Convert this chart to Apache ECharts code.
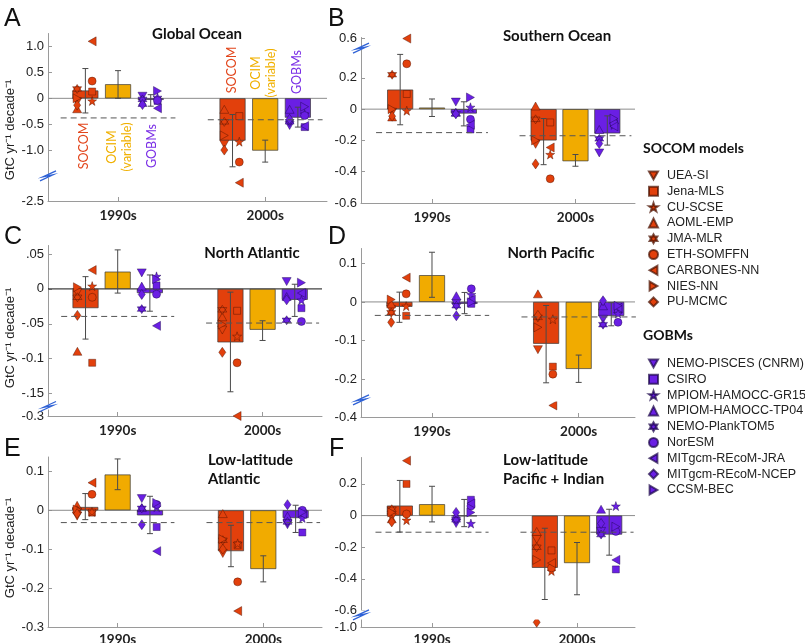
<!DOCTYPE html>
<html>
<head>
<meta charset="utf-8">
<script src="https://cdn.jsdelivr.net/npm/echarts@6/dist/echarts.min.js"></script>
<style>
  html, body { margin: 0; padding: 0; background: #fff; }
  #main { width: 805px; height: 643px; }
</style>
</head>
<body>
<div id="main"></div>
<script>
// decades and panels
var decades = ['1990s', '2000s'];
var panelLetters = ['A', 'B', 'C', 'D', 'E', 'F'];
var panelTitles = ['Global Ocean', 'Southern Ocean', 'North Atlantic', 'North Pacific',
  'Low-latitude\nAtlantic', 'Low-latitude\nPacific + Indian'];

var socomModels = ['UEA-SI', 'Jena-MLS', 'CU-SCSE', 'AOML-EMP', 'JMA-MLR', 'ETH-SOMFFN',
  'CARBONES-NN', 'NIES-NN', 'PU-MCMC'];
var gobmModels = ['NEMO-PISCES (CNRM)', 'CSIRO', 'MPIOM-HAMOCC-GR15', 'MPIOM-HAMOCC-TP04',
  'NEMO-PlankTOM5', 'NorESM', 'MITgcm-REcoM-JRA', 'MITgcm-REcoM-NCEP', 'CCSM-BEC'];

// bar means per panel [1990s, 2000s]
var socomBars = [[0.15, -0.81], [0.125, -0.2], [-0.0276, -0.0767], [-0.0127, -0.1086], [0.0085, -0.105], [0.063, -0.33]];
var ocimBars = [[0.27, -1.0], [0.01, -0.333], [0.0248, -0.0586], [0.0695, -0.174], [0.092, -0.151], [0.072, -0.30]];
var gobmBars = [[-0.03, -0.37], [-0.028, -0.155], [-0.006, -0.0157], [-0.005, -0.0365], [-0.013, -0.02], [-0.004, -0.12]];

// error bars [low, high] per panel, per decade
var socomErr = [[[-0.28, 0.57], [-1.31, -0.31]], [[-0.1, 0.35], [-0.355, -0.06]], [[-0.072, 0.0176], [-0.1476, -0.0047]],
  [[-0.053, 0.0254], [-0.21, -0.0093]], [[-0.024, 0.043], [-0.145, -0.0385]], [[-0.104, 0.222], [-0.53, -0.08]]];
var ocimErr = [[[0.0, 0.53], [-1.22, -0.8]], [[-0.047, 0.065], [-0.365, -0.29]], [[-0.006, 0.056], [-0.074, -0.0457]],
  [[0.012, 0.129], [-0.209, -0.138]], [[0.053, 0.132], [-0.184, -0.117]], [[-0.04, 0.185], [-0.5, -0.17]]];
var gobmErr = [[[-0.15, 0.07], [-0.55, -0.17]], [[-0.107, 0.047], [-0.23, -0.043]], [[-0.032, 0.02], [-0.0395, 0.0067]],
  [[-0.0305, 0.0246], [-0.062, -0.002]], [[-0.06, 0.036], [-0.057, 0.013]], [[-0.07, 0.102], [-0.25, 0.04]]];

// dashed reference level per panel [1990s, 2000s]
var dashedRef = [[-0.375, -0.41], [-0.15, -0.17], [-0.0395, -0.049], [-0.035, -0.039], [-0.0316, -0.0316], [-0.105, -0.105]];

// SOCOM model values (socomModels order): [1990s, 2000s]
var socomA = [[-0.07, 0.13, -0.05, -0.2, 0.18, 0.33, 1.09, 0.0, -0.13], [-0.88, -0.34, -0.83, -0.21, -0.45, -1.22, -2.15, -0.71, -0.99]];
var socomB = [[-0.02, 0.097, -0.01, -0.05, 0.22, 0.29, 0.6, 0.0, -0.045], [-0.225, -0.085, -0.29, 0.02, -0.065, -0.445, -0.245, -0.2, -0.35]];
var socomC = [[-0.005, -0.106, 0.004, -0.0895, -0.012, -0.012, 0.027, 0.0024, -0.038], [-0.059, -0.0314, -0.068, -0.04, -0.03, -0.106, -0.3, -0.051, -0.091]];
var socomD = [[-0.02, -0.036, -0.011, -0.005, -0.028, 0.021, 0.063, 0.006, -0.053], [-0.124, -0.168, -0.045, 0.021, -0.04, -0.1875, -0.37, -0.066, -0.035]];
var socomE = [[-0.015, -0.006, -0.004, 0.013, 0.0, 0.041, 0.071, 0.002, -0.0085], [-0.111, -0.09, -0.085, -0.0085, -0.077, -0.184, -0.259, -0.074, -0.1]];
var socomF = [[-0.01, 0.2, -0.029, -0.02, 0.04, 0.01, 0.347, 0.02, -0.04], [-0.15, -0.22, -0.35, -0.1, -0.2, -0.33, -0.3, -0.28, -0.97]];

// GOBM values (gobmModels order): [1990s, 2000s]
var gobmA = [[0.04, -0.05, 0.02, -0.08, -0.02, -0.04, -0.19, -0.12, 0.14], [-0.52, -0.55, -0.3, -0.21, -0.45, -0.33, -0.53, -0.4, -0.16]];
var gobmB = [[0.045, -0.13, 0.012, -0.02, -0.03, -0.065, -0.1, -0.03, 0.075], [-0.28, -0.09, -0.1, -0.13, -0.19, -0.09, -0.11, -0.22, -0.06]];
var gobmC = [[0.023, 0.005, 0.018, 0.004, -0.029, -0.0076, -0.053, -0.008, 0.014], [0.0105, -0.0276, -0.016, -0.011, -0.045, -0.0467, -0.006, -0.0157, 0.009]];
var gobmD = [[-0.004, -0.005, 0.019, 0.016, -0.01, 0.034, 0.006, -0.036, -0.001], [-0.045, -0.02, -0.03, -0.01, -0.059, -0.053, -0.015, 0.003, -0.01]];
var gobmE = [[0.03, -0.043, 0.0085, 0.007, 0.005, 0.015, -0.105, -0.037, 0.019], [-0.037, -0.057, -0.02, -0.015, -0.03, 0.0, -0.01, 0.0145, -0.005]];
var gobmF = [[-0.05, 0.1, -0.05, 0.0, -0.027, 0.06, 0.077, 0.02, 0.02], [-0.1, -0.34, 0.06, 0.04, -0.12, -0.1, -0.28, -0.05, -0.07]];

var socomPts = [socomA, socomB, socomC, socomD, socomE, socomF];
var gobmPts = [gobmA, gobmB, gobmC, gobmD, gobmE, gobmF];

// y tick labels per panel
var yTicks = [[-2.5, -1, -0.5, 0, 0.5, 1], [-0.6, -0.4, -0.2, 0, 0.2, 0.6], [-0.3, -0.15, -0.1, -0.05, 0, 0.05],
  [-0.4, -0.2, -0.1, 0, 0.1], [-0.3, -0.2, -0.1, 0, 0.1], [-1, -0.6, -0.4, -0.2, 0, 0.2]];
var yTickText = [['-2.5', '-1.0', '-0.5', '0', '0.5', '1.0'], ['-0.6', '-0.4', '-0.2', '0', '0.2', '0.6'],
  ['-0.3', '-.15', '-0.1', '-.05', '0', '.05'], ['-0.4', '-0.2', '-0.1', '0', '0.1'],
  ['-0.3', '-0.2', '-0.1', '0', '0.1'], ['-1.0', '-0.6', '-0.4', '-0.2', '0', '0.2']];

// layout
var grids = [
  { left: 48, top: 33, width: 279, height: 168 },
  { left: 361, top: 37, width: 274, height: 166 },
  { left: 48, top: 245, width: 274, height: 171 },
  { left: 361, top: 248, width: 274, height: 169 },
  { left: 48, top: 457, width: 274, height: 170 },
  { left: 361, top: 457, width: 274, height: 170 }
];
var xRange = [[0.524, 2.42], [0.505, 2.415], [0.519, 2.41], [0.516, 2.384], [0.522, 2.403], [0.51, 2.4]];
var yRange = [[-2.5, 1.25], [-0.6, 0.61], [-0.3, 0.063], [-0.4, 0.14], [-0.3, 0.137], [-1.0, 0.37]];
var yBreaks = [
  { start: -2.05, end: -1.45, gap: '2%' },
  { start: 0.38, end: 0.55, gap: '2%' },
  { start: -0.29, end: -0.165, gap: '3%' },
  { start: -0.36, end: -0.25, gap: '2%' },
  null,
  { start: -0.95, end: -0.6, gap: '5%' }
];
var zeroColor = ['#8c8c8c', '#8c8c8c', '#111', '#8c8c8c', '#8c8c8c', '#8c8c8c'];
var xLabelMargin = [8, 8, 8, 8, 6, 6];

var RED = '#e2400c', GOLD = '#f1ab00', PURPLE = '#6a1fe4';
var sym = {
  triDown: 'path://M0,0L10,0L5,8.66Z',
  triLeft: 'path://M8.66,0L8.66,10L0,5Z',
  triRight: 'path://M0,0L0,10L8.66,5Z',
  star5: 'path://M5,0L6.18,3.38L9.76,3.45L6.9,5.62L7.94,9.05L5,7L2.06,9.05L3.1,5.62L0.24,3.45L3.82,3.38Z',
  star6: 'path://M5,0L9.33,7.5L0.67,7.5Z M5,10L0.67,2.5L9.33,2.5Z'
};
var socomSym = [sym.triDown, 'rect', sym.star5, 'triangle', sym.star6, 'circle', sym.triLeft, sym.triRight, 'diamond'];
var gobmSym = [sym.triDown, 'rect', sym.star5, 'triangle', sym.star6, 'circle', sym.triLeft, 'diamond', sym.triRight];
var socomSize = [[9, 8], [7, 7], [9, 9], [9, 8], [9, 9], [8, 8], [8, 9], [8, 9], [7, 10]];
var gobmSize = [[9, 8], [7, 7], [9, 9], [9, 8], [9, 9], [8, 8], [8, 9], [7, 10], [8, 9]];
var socomCol = [-1, 1, 1, -1, -1, 1, 1, -1, -1];
var gobmCol = [-1, 1, 1, -1, -1, 1, 1, -1, 1];
var barOff = [-0.222, 0, 0.222];

function colOff(c) { return c < 0 ? -0.056 : 0.046; }

function fmtY(i) {
  return function (v) {
    for (var k = 0; k < yTicks[i].length; k++) {
      if (Math.abs(yTicks[i][k] - v) < 1e-9) return yTickText[i][k];
    }
    return '';
  };
}

function renderErr(params, api) {
  var x = api.value(0);
  var lo = api.coord([x, api.value(1)]);
  var hi = api.coord([x, api.value(2)]);
  var c = 3;
  var st = { stroke: '#4a4a4a', lineWidth: 1 };
  return {
    type: 'group',
    children: [
      { type: 'line', shape: { x1: lo[0], y1: lo[1], x2: hi[0], y2: hi[1] }, style: st },
      { type: 'line', shape: { x1: lo[0] - c, y1: lo[1], x2: lo[0] + c, y2: lo[1] }, style: st },
      { type: 'line', shape: { x1: hi[0] - c, y1: hi[1], x2: hi[0] + c, y2: hi[1] }, style: st }
    ]
  };
}

var gridOpt = [], xAxes = [], yAxes = [], series = [];

for (var i = 0; i < 6; i++) {
  gridOpt.push({
    left: grids[i].left, top: grids[i].top, width: grids[i].width, height: grids[i].height,
    containLabel: false, outerBoundsMode: 'none'
  });
  xAxes.push({
    type: 'value', gridIndex: i, min: xRange[i][0], max: xRange[i][1],
    axisLine: { show: true, onZero: false, lineStyle: { color: '#9a9a9a', width: 1 } },
    axisTick: { show: true, inside: true, length: 4, customValues: [1, 2], lineStyle: { color: '#9a9a9a' } },
    axisLabel: {
      customValues: [1, 2], margin: xLabelMargin[i], color: '#222', fontSize: 13.5, fontWeight: 'bold', fontFamily: 'Lato',
      formatter: function (v) { return decades[Math.round(v) - 1] || ''; }
    },
    splitLine: { show: false }
  });
  var ya = {
    type: 'value', gridIndex: i, min: yRange[i][0], max: yRange[i][1],
    axisLine: { show: true, onZero: false, lineStyle: { color: '#9a9a9a', width: 1 } },
    axisTick: { show: true, inside: true, length: 4, customValues: yTicks[i], lineStyle: { color: '#9a9a9a' } },
    axisLabel: { customValues: yTicks[i], formatter: fmtY(i), color: '#222', fontSize: 13, fontFamily: 'Liberation Sans', margin: 4 },
    splitLine: { show: false }
  };
  if (yBreaks[i]) {
    ya.breaks = [yBreaks[i]];
    ya.breakArea = {
      show: true, expandOnClick: false, zigzagAmplitude: 0,
      itemStyle: { color: '#fff', borderColor: '#fff', borderWidth: 0, opacity: 1 }
    };
    ya.breakLabelLayout = { moveOverlap: false };
  }
  yAxes.push(ya);

  // zero line
  series.push({
    type: 'line', xAxisIndex: i, yAxisIndex: i, symbol: 'none', silent: true, z: 1,
    data: [[xRange[i][0], 0], [xRange[i][1], 0]],
    lineStyle: { color: zeroColor[i], width: 1 }
  });

  // bars
  var barSets = [socomBars, ocimBars, gobmBars];
  var barCols = [RED, GOLD, PURPLE];
  for (var b = 0; b < 3; b++) {
    series.push({
      type: 'bar', xAxisIndex: i, yAxisIndex: i, barWidth: 26, barGap: '-100%', z: 2,
      data: [[1 + barOff[b], barSets[b][i][0]], [2 + barOff[b], barSets[b][i][1]]],
      itemStyle: { color: barCols[b], borderColor: '#3a3a3a', borderWidth: 0.7 }
    });
  }

  // model points
  for (var m = 0; m < 9; m++) {
    var so = barOff[0] + colOff(socomCol[m]);
    series.push({
      name: socomModels[m], type: 'scatter', xAxisIndex: i, yAxisIndex: i, z: 4,
      symbol: socomSym[m], symbolSize: socomSize[m],
      data: [[1 + so, socomPts[i][0][m]], [2 + so, socomPts[i][1][m]]],
      itemStyle: { color: RED, borderColor: 'rgba(70,15,0,0.7)', borderWidth: 0.6, opacity: 1 }
    });
    var go = barOff[2] + colOff(gobmCol[m]);
    series.push({
      name: gobmModels[m], type: 'scatter', xAxisIndex: i, yAxisIndex: i, z: 4,
      symbol: gobmSym[m], symbolSize: gobmSize[m],
      data: [[1 + go, gobmPts[i][0][m]], [2 + go, gobmPts[i][1][m]]],
      itemStyle: { color: PURPLE, borderColor: 'rgba(25,5,70,0.7)', borderWidth: 0.6, opacity: 1 }
    });
  }

  // error bars
  var errSets = [socomErr, ocimErr, gobmErr];
  var errData = [];
  for (var e = 0; e < 3; e++) {
    errData.push([1 + barOff[e], errSets[e][i][0][0], errSets[e][i][0][1]]);
    errData.push([2 + barOff[e], errSets[e][i][1][0], errSets[e][i][1][1]]);
  }
  series.push({
    type: 'custom', xAxisIndex: i, yAxisIndex: i, z: 5, silent: true,
    renderItem: renderErr, data: errData, encode: { x: 0, y: [1, 2] }
  });

  // dashed reference lines
  for (var d = 0; d < 2; d++) {
    series.push({
      type: 'line', xAxisIndex: i, yAxisIndex: i, symbol: 'none', silent: true, z: 6,
      data: [[d + 1 - 0.39, dashedRef[i][d]], [d + 1 + 0.39, dashedRef[i][d]]],
      lineStyle: { color: '#555', width: 1, type: [6, 4] }
    });
  }
}

var legendText = { fontSize: 12.5, lineHeight: 12, fontFamily: 'Liberation Sans', color: '#222', padding: [0, 0, 0, 4] };

var chart = echarts.init(document.getElementById('main'));
chart.setOption({
  animation: false,
  backgroundColor: '#fff',
  grid: gridOpt,
  xAxis: xAxes,
  yAxis: yAxes,
  legend: [
    { data: socomModels, orient: 'vertical', left: 643, top: 164, itemWidth: 9, itemHeight: 9, itemGap: 2.8,
      selectedMode: false, textStyle: legendText },
    { data: gobmModels, orient: 'vertical', left: 643, top: 352, itemWidth: 9, itemHeight: 9, itemGap: 2.8,
      selectedMode: false, textStyle: legendText }
  ],
  series: series
});

// text and decorations
var graphics = [];
var letterPos = [[4, 19], [328, 19], [4, 237], [328, 237], [4, 449], [329, 449]];
var titlePos = [[197, 34, 'center'], [557, 36, 'center'], [252, 253, 'center'], [551, 253, 'center'], [208, 470, 'left'], [503, 470, 'left']];
for (var p = 0; p < 6; p++) {
  graphics.push({ type: 'text', x: letterPos[p][0], y: letterPos[p][1],
    style: { text: panelLetters[p], font: '25px "Liberation Sans"', fill: '#111', verticalAlign: 'middle' } });
  graphics.push({ type: 'text', x: titlePos[p][0], y: titlePos[p][1],
    style: { text: panelTitles[p], font: 'bold 15px Lato', fill: '#111', align: titlePos[p][2], verticalAlign: 'middle', lineHeight: 19 } });
}
var yNameY = [130, 338, 548];
for (var q = 0; q < 3; q++) {
  graphics.push({ type: 'text', x: 10, y: yNameY[q], rotation: Math.PI / 2,
    style: { text: 'GtC yr⁻¹ decade⁻¹', font: '13px "Liberation Sans"', fill: '#222', align: 'center', verticalAlign: 'middle' } });
}
var groupLabels = ['SOCOM', 'OCIM\n(variable)', 'GOBMs'];
var groupColors = ['#e2461c', '#f0b000', '#7a2ee6'];
var groupPos = [[[84, 146], [119, 147], [152, 146]], [[232, 70], [263, 73], [297, 72]]];
for (var g = 0; g < 2; g++) {
  for (var h = 0; h < 3; h++) {
    graphics.push({ type: 'text', x: groupPos[g][h][0], y: groupPos[g][h][1], rotation: Math.PI / 2,
      style: { text: groupLabels[h], font: '12.5px Lato', fill: groupColors[h], align: 'center', verticalAlign: 'middle', lineHeight: 15 } });
  }
}
graphics.push({ type: 'text', x: 643, y: 148, style: { text: 'SOCOM models', font: 'bold 14px Lato', fill: '#111', verticalAlign: 'middle' } });
graphics.push({ type: 'text', x: 643, y: 335, style: { text: 'GOBMs', font: 'bold 14px Lato', fill: '#111', verticalAlign: 'middle' } });

// axis break marks
for (var r = 0; r < 6; r++) {
  if (!yBreaks[r]) continue;
  var mid = (yBreaks[r].start + yBreaks[r].end) / 2;
  var pt = chart.convertToPixel({ gridIndex: r }, [xRange[r][0], mid]);
  if (!pt || isNaN(pt[1])) continue;
  var cx = grids[r].left, cy = pt[1];
  graphics.push({ type: 'polyline', z: 100,
    shape: { points: [[cx - 8, cy + 5], [cx + 5, cy - 1], [cx - 5, cy + 1], [cx + 8, cy - 5]] },
    style: { stroke: '#2f62d6', lineWidth: 1.3, fill: null } });
}
chart.setOption({ graphic: graphics });
</script>
</body>
</html>
